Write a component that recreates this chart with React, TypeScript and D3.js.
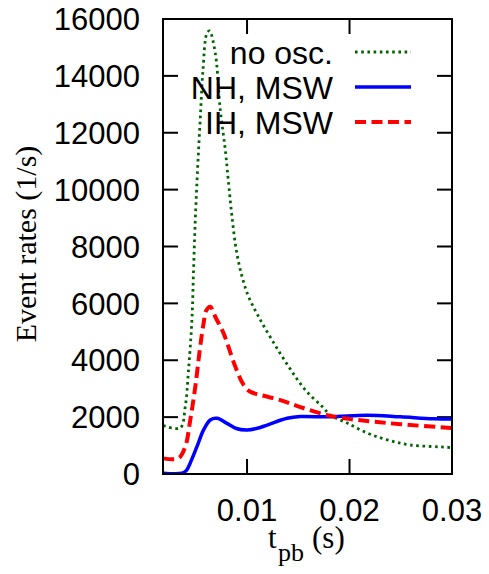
import React from "react";
import * as d3 from "d3";

const xTicks = [0.01, 0.02, 0.03];
const yTicks = [0, 2000, 4000, 6000, 8000, 10000, 12000, 14000, 16000];

const noOscT = [0.00182, 0.00348, 0.00397, 0.00429, 0.00462, 0.00478, 0.00495, 0.00517, 0.00543, 0.0057, 0.00609, 0.00634, 0.0069, 0.00739, 0.00788, 0.0082, 0.00853, 0.00895, 0.00951, 0.01016, 0.01113, 0.01244, 0.01407, 0.0157, 0.01733, 0.01814, 0.01978, 0.02173, 0.02369, 0.02596, 0.02955, 0.03007];
const noOscV = [1700, 1620, 2360, 3660, 5410, 7170, 8930, 10690, 12450, 14200, 15500, 15580, 14800, 12800, 11390, 10220, 9050, 7880, 6940, 6230, 5530, 4710, 3770, 2950, 2370, 2070, 1790, 1440, 1200, 1020, 940, 920];

const ihT = [0.00182, 0.00329, 0.00397, 0.00446, 0.00495, 0.00543, 0.00576, 0.00602, 0.00641, 0.0069, 0.00771, 0.00886, 0.00967, 0.01032, 0.0113, 0.01325, 0.01521, 0.01782, 0.02009, 0.02238, 0.02499, 0.02955, 0.03007];
const ihV = [550, 550, 960, 1900, 3070, 4480, 5300, 5750, 5880, 5530, 4950, 3770, 3130, 2890, 2780, 2600, 2350, 2070, 1930, 1840, 1750, 1630, 1620];

const nhT = [0.00182, 0.00365, 0.00407, 0.00446, 0.00511, 0.00576, 0.00641, 0.00707, 0.00804, 0.00895, 0.01, 0.01091, 0.01196, 0.01391, 0.01521, 0.01814, 0.02173, 0.02499, 0.02821, 0.03007];
const nhV = [30, 30, 120, 390, 960, 1550, 1900, 1960, 1780, 1600, 1550, 1600, 1720, 1960, 2020, 2010, 2070, 2010, 1940, 1930];

const seriesNames = ["no osc.", "NH, MSW", "IH, MSW"];

export default function App() {
  const W = 489, H = 574;
  const left = 163, right = 452, top = 19, bottom = 474;
  const x = d3.scaleLinear().domain([0.0018, 0.03]).range([left, right]);
  const y = d3.scaleLinear().domain([0, 16000]).range([bottom, top]);
  const mk = (ts: number[], vs: number[]) =>
    d3.line<number>().x((_, i) => x(ts[i])).y((v) => y(v)).curve(d3.curveCatmullRom.alpha(0.5))(vs) || "";

  const series = [
    { name: seriesNames[0], d: mk(noOscT, noOscV), color: "#006400", width: 2.8, dash: "2.6 3.6" },
    { name: seriesNames[1], d: mk(nhT, nhV), color: "#0000ff", width: 3.5, dash: "" },
    { name: seriesNames[2], d: mk(ihT, ihV), color: "#ff0000", width: 4, dash: "11 5.5" },
  ];
  const sans = "'Liberation Sans', Arial, sans-serif";
  const serif = "'Liberation Serif', 'Times New Roman', serif";
  const tick = 15;

  return (
    <svg width={W} height={H} style={{ position: "absolute", left: 0, top: 0 }}>
      <defs>
        <clipPath id="pa">
          <rect x={left} y={top} width={right - left} height={bottom - top} />
        </clipPath>
      </defs>
      <rect width={W} height={H} fill="#fff" />
      {yTicks.map((v) => (
        <g key={v}>
          <line x1={left} x2={left + tick} y1={y(v)} y2={y(v)} stroke="#000" strokeWidth={2} />
          <line x1={right} x2={right - tick} y1={y(v)} y2={y(v)} stroke="#000" strokeWidth={2} />
          <text x={140} y={y(v)} dy="0.36em" textAnchor="end" fontFamily={sans} fontSize={31}>{v}</text>
        </g>
      ))}
      {xTicks.map((v) => (
        <g key={v}>
          <line x1={x(v)} x2={x(v)} y1={bottom} y2={bottom - tick} stroke="#000" strokeWidth={2} />
          <line x1={x(v)} x2={x(v)} y1={top} y2={top + tick} stroke="#000" strokeWidth={2} />
          <text x={x(v)} y={521} textAnchor="middle" fontFamily={sans} fontSize={31}>{v.toFixed(2)}</text>
        </g>
      ))}
      <g clipPath="url(#pa)">
        {series.map((s) => (
          <path key={s.name} d={s.d} fill="none" stroke={s.color} strokeWidth={s.width} strokeDasharray={s.dash || undefined} />
        ))}
      </g>
      <rect x={left} y={top} width={right - left} height={bottom - top} fill="none" stroke="#000" strokeWidth={2} />
      {series.map((s, i) => (
        <g key={s.name}>
          <text x={333} y={52 + i * 35} dy="0.36em" textAnchor="end" fontFamily={sans} fontSize={32}>{s.name}</text>
          <line x1={355} x2={411} y1={52 + i * 35} y2={52 + i * 35} stroke={s.color} strokeWidth={s.width} strokeDasharray={s.dash || undefined} />
        </g>
      ))}
      <text transform={`translate(36,244) rotate(-90)`} textAnchor="middle" fontFamily={serif} fontSize={30}>Event rates (1/s)</text>
      <text y={548} fontFamily={serif} fontSize={31}>
        <tspan x={268}>t</tspan>
        <tspan x={278} y={561} fontSize={26}>pb</tspan>
        <tspan x={312} y={548}>(s)</tspan>
      </text>
    </svg>
  );
}
